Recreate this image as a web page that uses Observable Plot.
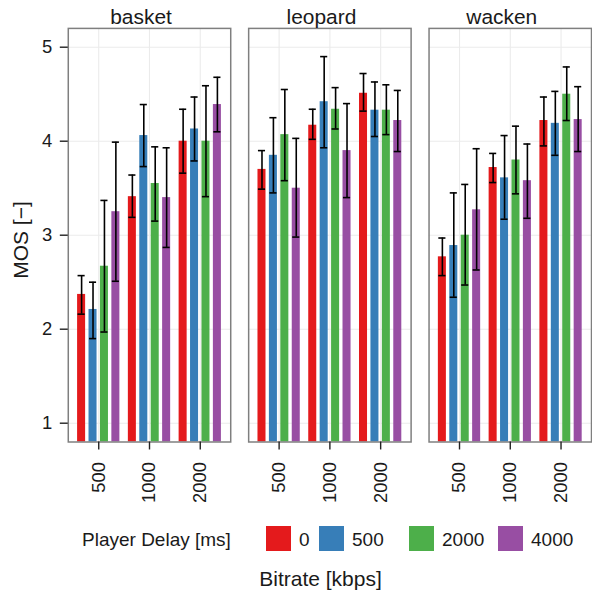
<!DOCTYPE html>
<html><head><meta charset="utf-8">
<script src="https://cdn.jsdelivr.net/npm/d3@7"></script>
<script src="https://cdn.jsdelivr.net/npm/@observablehq/plot@0.6"></script>
<style>
html,body{margin:0;padding:0;background:#fff;overflow:hidden}
#wrap{position:relative;width:592px;height:595px;overflow:hidden;font-family:"Liberation Sans",Arial,sans-serif;color:#1a1a1a}
#chart{position:absolute;left:0;top:0}
.abs{position:absolute;white-space:nowrap;line-height:1}
.sw{position:absolute;width:24.5px;height:24.5px;top:526px}
</style></head><body>
<div id="wrap"><div id="chart"></div></div>
<script>
// ---- data ----
const videos = ["basket", "leopard", "wacken"];
const bitrates = ["500", "1000", "2000"];
const delays = ["0", "500", "2000", "4000"];
const delayColors = ["#E41A1C", "#377EB8", "#4DAF4A", "#984EA3"];
const yTicks = [1, 2, 3, 4, 5];

// MOS per bitrate (rows) and player delay (columns)
const mosBasket  = [[2.37, 2.21, 2.67, 3.25], [3.41, 4.06, 3.55, 3.40], [4.00, 4.13, 4.00, 4.39]];
const lowBasket  = [[2.16, 1.90, 1.97, 2.51], [3.19, 3.73, 3.15, 2.87], [3.66, 3.79, 3.41, 4.10]];
const highBasket = [[2.57, 2.50, 3.37, 3.99], [3.64, 4.39, 3.94, 3.93], [4.34, 4.47, 4.59, 4.68]];

const mosLeopard  = [[3.70, 3.85, 4.07, 3.50], [4.17, 4.42, 4.34, 3.90], [4.51, 4.33, 4.33, 4.22]];
const lowLeopard  = [[3.49, 3.45, 3.58, 2.98], [4.02, 3.93, 4.13, 3.40], [4.32, 4.05, 4.07, 3.89]];
const highLeopard = [[3.90, 4.25, 4.55, 4.03], [4.34, 4.90, 4.57, 4.40], [4.72, 4.63, 4.60, 4.54]];

const mosWacken  = [[2.77, 2.89, 3.00, 3.27], [3.72, 3.61, 3.80, 3.58], [4.22, 4.19, 4.50, 4.23]];
const lowWacken  = [[2.57, 2.34, 2.47, 2.63], [3.56, 3.17, 3.44, 3.18], [3.95, 3.85, 4.22, 3.89]];
const highWacken = [[2.97, 3.45, 3.54, 3.92], [3.87, 4.06, 4.16, 3.97], [4.47, 4.53, 4.79, 4.58]];

const mosAll = [mosBasket, mosLeopard, mosWacken];
const lowAll = [lowBasket, lowLeopard, lowWacken];
const highAll = [highBasket, highLeopard, highWacken];

// ---- build table ----
const dodge = 0.225, halfBar = 0.079, halfCap = 0.07;
const rows = [];
videos.forEach((v, vi) => bitrates.forEach((b, bi) => delays.forEach((d, di) => {
  rows.push({video: v, bitrate: b, delay: d,
    mos: mosAll[vi][bi][di], lo: lowAll[vi][bi][di], hi: highAll[vi][bi][di],
    pos: bi + 1 + (di - 1.5) * dodge});
})));

const txt = "#1a1a1a";
const plot = Plot.plot({
  width: 594, height: 512,
  marginLeft: 68, marginRight: 0.5, marginTop: 28, marginBottom: 69,
  style: {fontFamily: '"Liberation Sans", Arial, sans-serif', fontSize: "18px", color: txt, background: "#fff"},
  fx: {domain: videos, paddingInner: 0.097, paddingOuter: 0},
  x: {domain: [0.4, 3.6]},
  y: {domain: [0.8, 5.2]},
  color: {domain: delays, range: delayColors},
  marks: [
    Plot.gridY({ticks: yTicks, stroke: "#EBEBEB", strokeOpacity: 1, strokeWidth: 1.1}),
    Plot.gridX({ticks: [1, 2, 3], stroke: "#EBEBEB", strokeOpacity: 1, strokeWidth: 1.1}),
    Plot.rectY(rows, {fx: "video", x1: d => d.pos - halfBar, x2: d => d.pos + halfBar, y1: 0, y2: "mos", fill: "delay", clip: true}),
    Plot.ruleX(rows, {fx: "video", x: "pos", y1: "lo", y2: "hi", stroke: "#000", strokeWidth: 1.6}),
    Plot.ruleY(rows, {fx: "video", y: "hi", x1: d => d.pos - halfCap, x2: d => d.pos + halfCap, stroke: "#000", strokeWidth: 1.6}),
    Plot.ruleY(rows, {fx: "video", y: "lo", x1: d => d.pos - halfCap, x2: d => d.pos + halfCap, stroke: "#000", strokeWidth: 1.6}),
    Plot.frame({stroke: "#7F7F7F", strokeWidth: 1.5}),
    Plot.axisY({ticks: yTicks, tickFormat: d => String(d), tickSize: 8, tickPadding: 8, label: null, stroke: "#222", strokeWidth: 1.4, fontSize: 18.5, fill: txt}),
    Plot.axisX({ticks: [1, 2, 3], tickFormat: i => bitrates[i - 1], tickRotate: -90, tickSize: 8, tickPadding: 12, label: null, stroke: "#222", strokeWidth: 1.4, fontSize: 18.5, fill: txt}),
    Plot.axisFx({anchor: "top", label: null, tickSize: 0, tickPadding: 4, fontSize: 21, dx: -8.5, fill: txt})
  ]
});
const wrap = document.getElementById("wrap");
document.getElementById("chart").appendChild(plot);

// y title
const yt = document.createElement("div");
yt.className = "abs";
yt.textContent = "MOS [\u2212]";
yt.style.cssText += "font-size:21px;left:20px;top:240px;transform:translate(-50%,-50%) rotate(-90deg);";
wrap.appendChild(yt);

// legend
const legTitle = document.createElement("div");
legTitle.className = "abs";
legTitle.textContent = "Player Delay [ms]";
legTitle.style.cssText += "font-size:19px;left:82px;top:539px;transform:translateY(-50%);";
wrap.appendChild(legTitle);
const swatchX = [266, 319, 409, 498];
delays.forEach((d, i) => {
  const s = document.createElement("div");
  s.className = "sw";
  s.style.left = swatchX[i] + "px";
  s.style.background = delayColors[i];
  wrap.appendChild(s);
  const t = document.createElement("div");
  t.className = "abs";
  t.textContent = d;
  t.style.cssText += `font-size:19px;left:${swatchX[i] + 33}px;top:539px;transform:translateY(-50%);`;
  wrap.appendChild(t);
});

// x title
const xt = document.createElement("div");
xt.className = "abs";
xt.textContent = "Bitrate [kbps]";
xt.style.cssText += "font-size:21px;left:320.5px;top:578px;transform:translate(-50%,-50%);";
wrap.appendChild(xt);
</script>
</body></html>
